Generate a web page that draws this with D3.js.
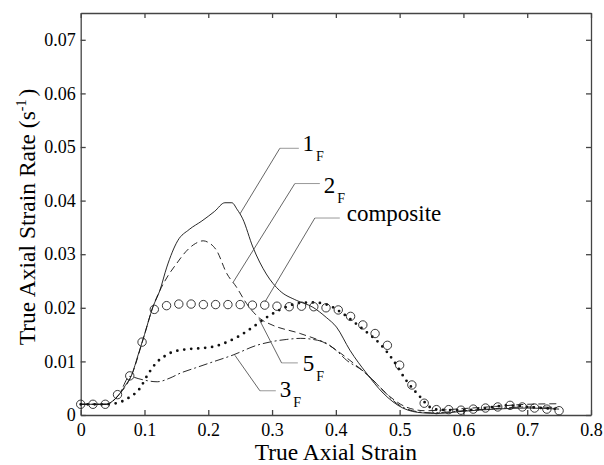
<!DOCTYPE html>
<html>
<head>
<meta charset="utf-8">
<title>True axial strain rate</title>
<script src="https://d3js.org/d3.v7.min.js"></script>
<style>
  body { margin: 0; background: #fff; }
  svg { display: block; }
</style>
</head>
<body>
<div id="chart"></div>
<script>
// strain, strain rate pairs
var curve1F = [[0,0.002],[0.02,0.002],[0.04,0.002],[0.05,0.0026],[0.06,0.0038],[0.07,0.0055],[0.08,0.0075],
  [0.09,0.0112],[0.1,0.015],[0.113,0.0201],[0.124,0.0232],[0.135,0.0276],[0.152,0.0325],[0.17,0.0346],
  [0.19,0.0362],[0.21,0.038],[0.226,0.0396],[0.237,0.0396],[0.245,0.0384],[0.254,0.0366],[0.27,0.0313],[0.291,0.0263],
  [0.312,0.0232],[0.338,0.0214],[0.364,0.0201],[0.385,0.0182],[0.401,0.0164],[0.422,0.0121],[0.448,0.0078],
  [0.474,0.0041],[0.505,0.0013],[0.536,0.0004],[0.56,0.0003],[0.6,0.0007],[0.65,0.0011],[0.7,0.0013],[0.75,0.0011]];
var curve2F = [[0,0.002],[0.04,0.002],[0.06,0.0038],[0.08,0.0075],[0.1,0.015],[0.113,0.0201],[0.124,0.0232],
  [0.137,0.026],[0.15,0.0282],[0.165,0.0305],[0.18,0.032],[0.192,0.0325],[0.2,0.0322],[0.213,0.0307],
  [0.229,0.0264],[0.244,0.0239],[0.26,0.0208],[0.281,0.0180],[0.3,0.0168],[0.344,0.0152],[0.385,0.0133],
  [0.422,0.0102],[0.453,0.0071],[0.485,0.0034],[0.51,0.0015],[0.54,0.0008],[0.6,0.0012],[0.65,0.0016],
  [0.7,0.002],[0.75,0.0021]];
var curve3F = [[0,0.002],[0.04,0.002],[0.06,0.0038],[0.077,0.0072],[0.09,0.0068],[0.1,0.0065],[0.12,0.0062],
  [0.14,0.0069],[0.156,0.0078],[0.18,0.0088],[0.207,0.0099],[0.239,0.0112],[0.276,0.013],[0.3,0.0137],
  [0.323,0.0141],[0.345,0.0143],[0.364,0.0141],[0.385,0.0134],[0.4,0.0121],[0.417,0.0102],[0.443,0.0082],
  [0.474,0.0046],[0.495,0.0022],[0.52,0.0008],[0.55,0.0004],[0.6,0.0008],[0.65,0.0012],[0.7,0.0015],[0.75,0.0014]];
var curve5F = [[0,0.002],[0.04,0.002],[0.056,0.0022],[0.075,0.0032],[0.093,0.005],[0.105,0.0075],[0.119,0.0098],
  [0.132,0.011],[0.145,0.0118],[0.17,0.0123],[0.192,0.0125],[0.21,0.0128],[0.223,0.0133],[0.245,0.0145],
  [0.27,0.0164],[0.29,0.0181],[0.307,0.0193],[0.323,0.0202],[0.344,0.0209],[0.365,0.021],[0.39,0.0204],
  [0.41,0.019],[0.432,0.017],[0.45,0.0153],[0.469,0.0133],[0.49,0.0102],[0.51,0.0065],[0.532,0.0034],
  [0.547,0.0015],[0.56,0.001],[0.6,0.0009],[0.63,0.0012],[0.67,0.0018],[0.7,0.0015],[0.75,0.0011]];

// composite: open circles
var compositeX = [0,0.0192,0.0385,0.0577,0.0769,0.0962,0.1154,0.1346,0.1538,0.1731,0.1923,0.2115,0.2308,0.25,
  0.2692,0.2885,0.3077,0.3269,0.3462,0.3654,0.3846,0.4038,0.4231,0.4423,0.4615,0.4808,0.5,0.5192,0.5385,
  0.5577,0.5769,0.5962,0.6154,0.6346,0.6538,0.6731,0.6923,0.7115,0.7308,0.75];
var compositeY = [0.002,0.002,0.002,0.0038,0.0073,0.0136,0.0197,0.0204,0.0207,0.0207,0.0206,0.0206,0.0206,0.0206,
  0.0205,0.0205,0.0203,0.0202,0.0203,0.0202,0.02,0.0196,0.0184,0.0168,0.0152,0.013,0.0093,0.0056,0.0022,
  0.001,0.001,0.0009,0.0011,0.0013,0.0015,0.0018,0.0015,0.0013,0.0011,0.0008];

var xTicks = [0,0.1,0.2,0.3,0.4,0.5,0.6,0.7,0.8];
var yTicks = [0,0.01,0.02,0.03,0.04,0.05,0.06,0.07];

// callouts: label, subscript, label anchor, elbow, end on curve (data units)
var callouts = [
  {text: "1", sub: "F", at: [0.3478,0.0493], hEnd: 0.342, elbow: [0.3122,0.04976], tip: [0.2496,0.0375]},
  {text: "2", sub: "F", at: [0.3812,0.04145], hEnd: 0.3749, elbow: [0.3357,0.04318], tip: [0.2391,0.02478]},
  {text: "composite", sub: "", at: [0.417,0.03625], hEnd: 0.4062, elbow: [0.3671,0.03675], tip: [0.2887,0.02106]},
  {text: "5", sub: "F", at: [0.3483,0.00818], hEnd: 0.3404, elbow: [0.3149,0.00972], tip: [0.2793,0.01797]},
  {text: "3", sub: "F", at: [0.3122,0.00335], hEnd: 0.3059, elbow: [0.2809,0.00452], tip: [0.2417,0.01115]}
];

var serif = "'Liberation Serif', 'Times New Roman', Times, serif";
var width = 604, height = 465;
var plotLeft = 80.7, plotRight = 591, plotTop = 13, plotBottom = 415;

var svg = d3.select("#chart").append("svg")
  .attr("width", width)
  .attr("height", height)
  .attr("font-family", serif);

svg.append("rect").attr("width", width).attr("height", height).attr("fill", "#fff");

var x = d3.scaleLinear().domain([0, 0.8]).range([plotLeft, plotRight]);
var y = d3.scaleLinear().domain([0, 0.075]).range([plotBottom, plotTop]);

var fmtX = function(d) { return d === 0 ? "0" : d3.format(".1f")(d); };
var fmtY = function(d) { return d === 0 ? "0" : d3.format(".2f")(d); };

function styleAxis(g) {
  g.attr("font-family", serif).attr("font-size", 18);
  g.selectAll("path, line").attr("stroke", "#444").attr("stroke-width", 1.3);
  g.selectAll("text").attr("fill", "#000").attr("font-family", serif);
}

svg.append("g").attr("transform", "translate(0," + plotBottom + ")")
  .call(d3.axisBottom(x).tickValues(xTicks).tickFormat(fmtX).tickSizeInner(-5).tickSizeOuter(0).tickPadding(8))
  .call(styleAxis);
svg.append("g").attr("transform", "translate(0," + plotTop + ")")
  .call(d3.axisTop(x).tickValues(xTicks).tickFormat("").tickSizeInner(-5).tickSizeOuter(0))
  .call(styleAxis);
svg.append("g").attr("transform", "translate(" + plotLeft + ",0)")
  .call(d3.axisLeft(y).tickValues(yTicks).tickFormat(fmtY).tickSizeInner(-5).tickSizeOuter(0).tickPadding(5))
  .call(styleAxis);
svg.append("g").attr("transform", "translate(" + plotRight + ",0)")
  .call(d3.axisRight(y).tickValues(yTicks).tickFormat("").tickSizeInner(-5).tickSizeOuter(0))
  .call(styleAxis);

var line = d3.line()
  .x(function(d) { return x(d[0]); })
  .y(function(d) { return y(d[1]); })
  .curve(d3.curveMonotoneX);

function drawCurve(data, dash, w, cap) {
  svg.append("path")
    .attr("d", line(data))
    .attr("fill", "none")
    .attr("stroke", "#111")
    .attr("stroke-width", w)
    .attr("stroke-dasharray", dash)
    .attr("stroke-linecap", cap || "butt");
}

drawCurve(curve1F, null, 0.9);
drawCurve(curve2F, "7,4", 0.9);
drawCurve(curve3F, "9,3,2,3", 0.9);
drawCurve(curve5F, "0,7", 2.8, "round");

svg.append("g").selectAll("circle")
  .data(d3.range(compositeX.length))
  .enter().append("circle")
  .attr("cx", function(i) { return x(compositeX[i]); })
  .attr("cy", function(i) { return y(compositeY[i]); })
  .attr("r", 4.2)
  .attr("fill", "none")
  .attr("stroke", "#222")
  .attr("stroke-width", 0.9);

// callout leaders and labels
callouts.forEach(function(c) {
  svg.append("line")
    .attr("x1", x(c.hEnd)).attr("y1", y(c.elbow[1]))
    .attr("x2", x(c.elbow[0])).attr("y2", y(c.elbow[1]))
    .attr("stroke", "#999").attr("stroke-width", 1);
  svg.append("line")
    .attr("x1", x(c.elbow[0])).attr("y1", y(c.elbow[1]))
    .attr("x2", x(c.tip[0])).attr("y2", y(c.tip[1]))
    .attr("stroke", "#555").attr("stroke-width", 0.9);
  var t = svg.append("text")
    .attr("x", x(c.at[0]))
    .attr("y", y(c.at[1]))
    .attr("font-family", serif)
    .attr("font-size", 23)
    .attr("fill", "#000")
    .text(c.text);
  if (c.sub) {
    t.append("tspan").attr("dx", 2).attr("dy", 10).attr("font-size", 14).text(c.sub);
  }
});

// axis titles
svg.append("text")
  .attr("x", (plotLeft + plotRight) / 2)
  .attr("y", 460)
  .attr("text-anchor", "middle")
  .attr("font-family", serif)
  .attr("font-size", 23.5)
  .text("True Axial Strain");

var yt = svg.append("text")
  .attr("transform", "translate(35,217) rotate(-90)")
  .attr("text-anchor", "middle")
  .attr("font-family", serif)
  .attr("font-size", 23.5);
yt.append("tspan").text("True Axial Strain Rate (s");
yt.append("tspan").attr("dy", -9).attr("font-size", 14).text("-1");
yt.append("tspan").attr("dy", 9).attr("dx", 3).text(")");
</script>
</body>
</html>
